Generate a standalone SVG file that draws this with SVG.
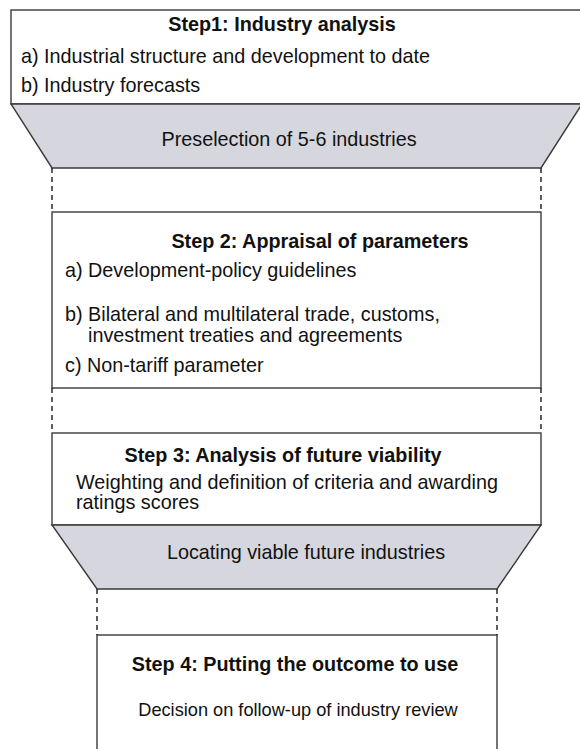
<svg xmlns="http://www.w3.org/2000/svg" width="580" height="749" viewBox="0 0 580 749">
  <style>
    .box { fill: #ffffff; stroke: #3a3a3a; stroke-width: 1.4; }
    .funnel { fill: #d5d6de; stroke: #3a3a3a; stroke-width: 1.4; stroke-linejoin: miter; }
    .dash { stroke: #1a1a1a; stroke-width: 1.4; stroke-dasharray: 5 4; fill: none; }
    text { font-family: "Liberation Sans", Arial, Helvetica, sans-serif; fill: #111111; font-size: 19.8px; }
    .title { font-weight: bold; }
    .small { font-size: 18.2px; }
    .mid { text-anchor: middle; }
  </style>

  <rect width="580" height="749" fill="#ffffff"/>

  <!-- Step 1 -->
  <g id="step1">
    <rect class="box" x="11" y="10" width="580" height="94"/>
    <text class="title mid" x="282" y="31">Step1: Industry analysis</text>
    <text x="21" y="63">a) Industrial structure and development to date</text>
    <text x="21" y="92">b) Industry forecasts</text>
  </g>

  <!-- Funnel 1 -->
  <g id="preselection">
    <polygon class="funnel" points="11,104 582,104 541,168 52,168"/>
    <text class="mid" x="289" y="146">Preselection of 5-6 industries</text>
  </g>

  <!-- Step 2 -->
  <g id="step2">
    <rect class="box" x="52" y="212" width="489" height="176"/>
    <text class="title mid" x="320" y="248">Step 2: Appraisal of parameters</text>
    <text x="65" y="277">a) Development-policy guidelines</text>
    <text x="65" y="321">b) Bilateral and multilateral trade, customs,</text>
    <text x="88" y="342">investment treaties and agreements</text>
    <text x="65" y="372">c) Non-tariff parameter</text>
  </g>

  <!-- Step 3 -->
  <g id="step3">
    <rect class="box" x="52" y="433" width="489" height="92"/>
    <text class="title mid" x="283" y="462">Step 3: Analysis of future viability</text>
    <text x="76" y="489">Weighting and definition of criteria and awarding</text>
    <text x="76" y="509">ratings scores</text>
  </g>

  <!-- Funnel 2 -->
  <g id="locating">
    <polygon class="funnel" points="52,525 541,525 497,589 97,589"/>
    <text class="mid" x="306" y="559">Locating viable future industries</text>
  </g>

  <!-- Step 4 -->
  <g id="step4">
    <rect class="box" x="97" y="635" width="400" height="130"/>
    <text class="title mid" x="295" y="671">Step 4: Putting the outcome to use</text>
    <text class="small mid" x="298" y="716">Decision on follow-up of industry review</text>
  </g>

  <!-- Dashed links between stages -->
  <g id="connectors">
    <line class="dash" x1="52" y1="168" x2="52" y2="212"/>
    <line class="dash" x1="541" y1="168" x2="541" y2="212"/>
    <line class="dash" x1="52" y1="388" x2="52" y2="433"/>
    <line class="dash" x1="541" y1="388" x2="541" y2="433"/>
    <line class="dash" x1="97" y1="589" x2="97" y2="635"/>
    <line class="dash" x1="497" y1="589" x2="497" y2="635"/>
  </g>
</svg>
